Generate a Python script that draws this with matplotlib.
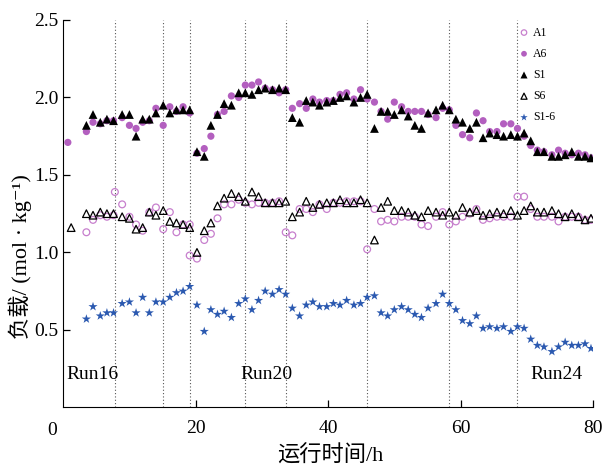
import matplotlib.pyplot as plt

plt.rcParams['font.family'] = ['Liberation Serif', 'Noto Sans CJK SC', 'DejaVu Sans']
plt.rcParams['font.size'] = 14

# sampling times (h), shared by all five series
t = [3.5, 4.5, 5.6, 6.6, 7.6, 8.9, 10.0, 11.0, 12.0, 13.0,
     14.0, 15.1, 16.1, 17.1, 18.1, 19.1, 20.2, 21.3, 22.3, 23.3,
     24.3, 25.4, 26.5, 27.5, 28.5, 29.5, 30.5, 31.6, 32.6, 33.6,
     34.6, 35.7, 36.7, 37.7, 38.7, 39.8, 40.8, 41.8, 42.8, 43.9,
     44.9, 45.9, 47.0, 48.0, 49.0, 50.0, 51.1, 52.1, 53.1, 54.1,
     55.1, 56.3, 57.3, 58.3, 59.3, 60.3, 61.4, 62.4, 63.4, 64.4,
     65.5, 66.5, 67.6, 68.6, 69.6, 70.6, 71.6, 72.6, 73.8, 74.8,
     75.8, 76.8, 77.8, 78.8, 79.7]

A1 = [1.13, 1.21, 1.24, 1.23, 1.24, 1.31, 1.23, 1.18, 1.14, 1.26,
      1.29, 1.15, 1.26, 1.13, 1.18, 0.98, 0.96, 1.08, 1.12, 1.22,
      1.31, 1.31, 1.34, 1.32, 1.31, 1.32, 1.32, 1.32, 1.33, 1.13,
      1.11, 1.28, 1.28, 1.26, 1.31, 1.28, 1.32, 1.32, 1.33, 1.33,
      1.33, 1.02, 1.28, 1.20, 1.21, 1.20, 1.23, 1.23, 1.23, 1.18,
      1.17, 1.23, 1.26, 1.18, 1.20, 1.23, 1.25, 1.28, 1.21, 1.22,
      1.23, 1.23, 1.23, 1.36, 1.36, 1.28, 1.23, 1.23, 1.23, 1.20,
      1.23, 1.23, 1.23, 1.21, 1.21]
A1_extra_t = [7.8, 19.1]
A1_extra = [1.39, 1.18]

A6 = [1.78, 1.84, 1.83, 1.85, 1.85, 1.87, 1.82, 1.80, 1.84, 1.85,
      1.93, 1.82, 1.94, 1.91, 1.94, 1.90, 1.64, 1.67, 1.75, 1.89,
      1.91, 2.01, 2.00, 2.08, 2.08, 2.10, 2.06, 2.05, 2.03, 2.05,
      1.93, 1.96, 1.93, 1.99, 1.97, 1.98, 1.98, 2.02, 2.03, 1.99,
      2.05, 1.99, 1.97, 1.91, 1.86, 1.97, 1.94, 1.91, 1.91, 1.91,
      1.89, 1.87, 1.93, 1.92, 1.82, 1.76, 1.74, 1.90, 1.85, 1.78,
      1.78, 1.83, 1.83, 1.80, 1.75, 1.69, 1.66, 1.65, 1.63, 1.66,
      1.64, 1.63, 1.64, 1.63, 1.61]
A6_extra_t = [0.7]
A6_extra = [1.71]

S1 = [1.82, 1.89, 1.84, 1.86, 1.85, 1.89, 1.89, 1.75, 1.86, 1.86,
      1.90, 1.95, 1.90, 1.92, 1.92, 1.92, 1.65, 1.62, 1.82, 1.89,
      1.96, 1.95, 2.03, 2.03, 2.02, 2.05, 2.06, 2.05, 2.06, 2.05,
      1.87, 1.84, 1.98, 1.97, 1.95, 1.97, 1.98, 2.00, 2.01, 1.97,
      2.00, 2.02, 1.80, 1.91, 1.91, 1.89, 1.92, 1.88, 1.82, 1.80,
      1.90, 1.92, 1.95, 1.92, 1.86, 1.84, 1.80, 1.84, 1.74, 1.77,
      1.76, 1.75, 1.76, 1.75, 1.77, 1.72, 1.65, 1.65, 1.62, 1.62,
      1.63, 1.65, 1.62, 1.62, 1.61]

S6 = [1.25, 1.24, 1.26, 1.25, 1.25, 1.23, 1.22, 1.15, 1.16, 1.26,
      1.24, 1.27, 1.20, 1.19, 1.18, 1.16, 1.00, 1.14, 1.19, 1.30,
      1.35, 1.38, 1.36, 1.33, 1.39, 1.36, 1.32, 1.32, 1.32, 1.33,
      1.23, 1.26, 1.33, 1.29, 1.31, 1.32, 1.32, 1.34, 1.32, 1.32,
      1.34, 1.32, 1.08, 1.29, 1.33, 1.27, 1.27, 1.26, 1.24, 1.23,
      1.27, 1.26, 1.24, 1.26, 1.24, 1.29, 1.26, 1.27, 1.24, 1.25,
      1.26, 1.25, 1.27, 1.24, 1.27, 1.30, 1.26, 1.26, 1.27, 1.25,
      1.23, 1.25, 1.23, 1.21, 1.22]
S6_extra_t = [1.2]
S6_extra = [1.16]

S16 = [0.57, 0.65, 0.59, 0.61, 0.61, 0.67, 0.68, 0.61, 0.71, 0.61,
       0.68, 0.68, 0.71, 0.74, 0.75, 0.78, 0.66, 0.49, 0.63, 0.60,
       0.62, 0.58, 0.67, 0.70, 0.63, 0.69, 0.75, 0.73, 0.76, 0.73,
       0.64, 0.59, 0.66, 0.68, 0.65, 0.65, 0.67, 0.66, 0.69, 0.66,
       0.67, 0.71, 0.72, 0.61, 0.59, 0.63, 0.65, 0.63, 0.60, 0.58,
       0.64, 0.67, 0.73, 0.67, 0.63, 0.56, 0.54, 0.59, 0.51, 0.52,
       0.51, 0.52, 0.49, 0.52, 0.51, 0.44, 0.40, 0.39, 0.36, 0.39,
       0.42, 0.40, 0.40, 0.41, 0.38]

# run boundaries (dotted lines) and run labels
bounds = [7.8, 15.1, 19.1, 27.5, 33.6, 45.9, 58.3, 68.6]
runs = ['Run16', 'Run20', 'Run24']
run_x = [0.5, 26.7, 70.6]

fig = plt.figure(figsize=(6.02, 4.65), dpi=100)
ax = fig.add_axes([0.105, 0.124, 0.88, 0.833])

for b in bounds:
    ax.axvline(b, color='#555555', ls=(0, (1, 2)), lw=0.8, zorder=1)

pink = '#c77fcd'
purple = '#b35fbf'
blue = '#2b59b0'

ax.scatter(t + A1_extra_t, A1 + A1_extra, marker='o', s=24, facecolors='none',
           edgecolors=pink, linewidths=0.9, label='A1', zorder=3)
ax.scatter(t + A6_extra_t, A6 + A6_extra, marker='o', s=27, color=purple,
           edgecolors='none', label='A6', zorder=3)
ax.scatter(t, S1, marker='^', s=40, color='black', edgecolors='none',
           label='S1', zorder=4)
ax.scatter(t + S6_extra_t, S6 + S6_extra, marker='^', s=30, facecolors='none',
           edgecolors='black', linewidths=0.9, label='S6', zorder=4)
ax.scatter(t, S16, marker='*', s=48, color=blue, edgecolors='none',
           label='S1-6', zorder=4)

for name, x in zip(runs, run_x):
    ax.text(x, 0.21, name, fontsize=14, va='center', ha='left')

ax.set_xlim(0, 80)
ax.set_ylim(0, 2.5)
ax.set_xticks([20, 40, 60, 80])
ax.set_yticks([0.5, 1.0, 1.5, 2.0, 2.5])
ax.set_yticklabels(['0.5', '1.0', '1.5', '2.0', '2.5'])
ax.tick_params(direction='in', length=5, width=0.9)
ax.tick_params(axis='x', pad=9)
ax.spines['top'].set_visible(False)
ax.spines['right'].set_visible(False)
fig.text(52 / 602, 1 - 430 / 465, '0', ha='center', va='center', fontsize=14)

ax.set_xlabel('运行时间/h', fontsize=16)
ax.xaxis.set_label_coords(0.504, -0.097)
ax.set_ylabel('负载/ (mol · kg⁻¹)', fontsize=16)
ax.yaxis.set_label_coords(-0.058, 0.39)

ax.legend(loc='upper left', bbox_to_anchor=(0.852, 0.995), frameon=False,
          fontsize=8.5, handlelength=0.8, handletextpad=0.35,
          labelspacing=0.78, markerscale=0.8, borderaxespad=0)

fig.savefig('out.png', dpi=100)
